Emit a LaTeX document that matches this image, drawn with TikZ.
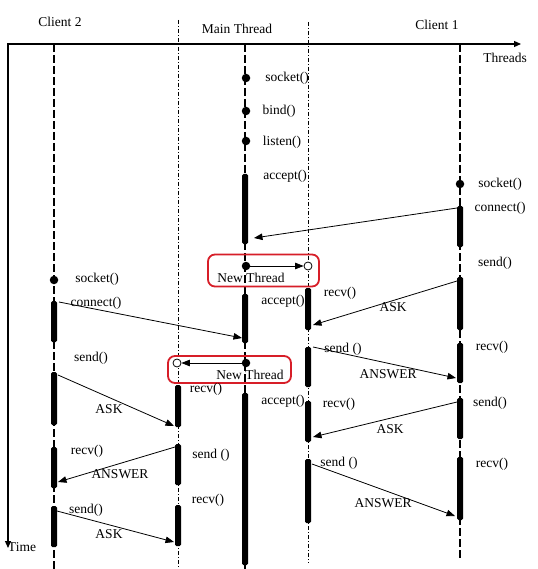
\documentclass[tikz,border=0pt]{standalone}
\usepackage{fontspec}
\setmainfont{Liberation Serif}
\usetikzlibrary{arrows.meta}
\definecolor{boxred}{RGB}{215,30,40}
\begin{document}
\begin{tikzpicture}[x=1pt,y=-1pt,
  every node/.style={font=\fontsize{13.5}{15}\selectfont},
  lbl/.style={inner sep=0pt, text height=1.6ex, text depth=0.45ex, yshift=-2pt},
  lifeline/.style={dash pattern=on 8pt off 3pt, line width=1.2pt},
  thrline/.style={dash pattern=on 4pt off 2pt on 1pt off 2pt, line width=0.8pt},
  bar/.style={rectangle, fill=black, inner sep=0pt, minimum width=6pt, rounded corners=1.5pt},
  dot/.style={circle, fill=black, inner sep=0pt, minimum size=8.5pt},
  odot/.style={circle, draw=black, fill=white, inner sep=0pt, minimum size=8pt, line width=0.8pt},
  msg/.style={line width=0.8pt, -{Triangle[length=8.5pt,width=6.5pt]}},
  axisline/.style={line width=1.2pt},
  redbox/.style={draw=boxred, line width=1.8pt, rounded corners=7pt, inner sep=0pt}
]
\useasboundingbox (0,0) rectangle (537,569);
\fill[white] (0,0) rectangle (537,569);

% axes
\coordinate (orig) at (8,44);
\coordinate (xend) at (521,44);
\coordinate (yend) at (8,548);
\draw[axisline, {Triangle[length=7pt,width=6pt]}-{Triangle[length=7pt,width=6pt]}] (xend) -- (orig) -- (yend);

% lifelines
\coordinate (c2top) at (54,44);   \coordinate (c2bot) at (54,569);
\coordinate (t2top) at (178,20);  \coordinate (t2bot) at (178,569);
\coordinate (mtop) at (245,44);   \coordinate (mbot) at (245,569);
\coordinate (t1top) at (308,22);  \coordinate (t1bot) at (308,563);
\coordinate (c1top) at (460,44);  \coordinate (c1bot) at (460,558);
\draw[lifeline] (c2top) -- (c2bot);
\draw[lifeline] (mtop) -- (mbot);
\draw[lifeline] (c1top) -- (c1bot);
\draw[thrline] (t2top) -- (t2bot);
\draw[thrline] (t1top) -- (t1bot);

% headers
\node[lbl] (hc2) at (60,22) {Client 2};
\node[lbl] (hm) at (237,29) {Main Thread};
\node[lbl] (hc1) at (437,25) {Client 1};
\node[lbl] (hthr) at (505,58) {Threads};
\node[lbl] (htime) at (22,547) {Time};

% red boxes
\node[redbox, minimum width=111pt, minimum height=32pt] (nb1) at (263.5,270.5) {};
\node[redbox, minimum width=123pt, minimum height=27pt] (nb2) at (229.5,369.5) {};

% main thread
\node[dot] (ms) at (246,78) {};
\node[dot] (mb) at (246,111) {};
\node[dot] (ml) at (246,141) {};
\node[lbl] (lms) at (287,77) {socket()};
\node[lbl] (lmb) at (279,110) {bind()};
\node[lbl] (lml) at (282,141) {listen()};
\node[lbl] (lma) at (285,175) {accept()};
\node[bar, minimum height=70pt] (mb1) at (245,209) {};
\node[bar, minimum height=49pt] (mb2) at (245,318.5) {};
\node[bar, minimum height=172pt] (mb3) at (245,479) {};
\node[lbl] (lma2) at (283,300) {accept()};
\node[lbl] (lma3) at (283,400) {accept()};

% new threads
\node[dot] (nt1) at (246,266) {};
\node[odot] (nc1) at (308,266) {};
\draw[msg] (nt1) -- (nc1);
\node[lbl] (lnt1) at (251,278) {New Thread};
\node[dot] (nt2) at (246,363) {};
\node[odot] (nc2) at (177,363) {};
\draw[msg] (nt2) -- (nc2);
\node[lbl] (lnt2) at (250,375) {New Thread};

% client 1
\node[dot] (c1s) at (460,184) {};
\node[lbl] (lc1s) at (500,183) {socket()};
\node[lbl] (lc1c) at (500,207) {connect()};
\node[lbl] (lc1send) at (495,262) {send()};
\node[lbl] (lc1recv) at (492,346) {recv()};
\node[lbl] (lc1send2) at (490,402) {send()};
\node[lbl] (lc1recv2) at (492,463) {recv()};
\node[bar, minimum height=41pt] (c1b1) at (460,226.5) {};
\node[bar, minimum height=53pt] (c1b2) at (460,303.5) {};
\node[bar, minimum height=40pt] (c1b3) at (460,363) {};
\node[bar, minimum height=41pt] (c1b4) at (460,418.5) {};
\node[bar, minimum height=63pt] (c1b5) at (460,488.5) {};

% thread 1 (x=308)
\node[bar, minimum height=42pt] (t1b1) at (308,309) {};
\node[bar, minimum height=40pt] (t1b2) at (308,367) {};
\node[bar, minimum height=41pt] (t1b3) at (308,421.5) {};
\node[bar, minimum height=64pt] (t1b4) at (308,491) {};
\node[lbl] (lt1r1) at (340,292) {recv()};
\node[lbl] (lt1s1) at (343,348) {send ()};
\node[lbl] (lt1r2) at (339,403) {recv()};
\node[lbl] (lt1s2) at (339,462) {send ()};
\node[lbl] (lask1) at (393,307) {ASK};
\node[lbl] (lans1) at (388,374) {ANSWER};
\node[lbl] (lask2) at (390,429) {ASK};
\node[lbl] (lans2) at (383,503) {ANSWER};

% client 2
\node[dot] (c2s) at (54,280) {};
\node[lbl] (lc2s) at (97,278) {socket()};
\node[lbl] (lc2c) at (96,302) {connect()};
\node[lbl] (lc2send) at (91,357) {send()};
\node[lbl] (lc2recv) at (87,450) {recv()};
\node[lbl] (lc2send2) at (86,509) {send()};
\node[lbl] (lask3) at (109,409) {ASK};
\node[lbl] (lans3) at (120,474) {ANSWER};
\node[lbl] (lask4) at (109,534) {ASK};
\node[bar, minimum height=41pt] (c2b1) at (54,321.5) {};
\node[bar, minimum height=53pt] (c2b2) at (54,398.5) {};
\node[bar, minimum height=41pt] (c2b3) at (54,467.5) {};
\node[bar, minimum height=41pt] (c2b4) at (54,526.5) {};

% thread 2 (x=178)
\node[bar, minimum height=42pt] (t2b1) at (178,406) {};
\node[bar, minimum height=41pt] (t2b2) at (178,464.5) {};
\node[bar, minimum height=41pt] (t2b3) at (178,525.5) {};
\node[lbl] (lt2r1) at (206,388) {recv()};
\node[lbl] (lt2s1) at (211,454) {send ()};
\node[lbl] (lt2r2) at (208,499) {recv()};

% messages
\coordinate (a1s) at (457,208);  \coordinate (a1e) at (254,238);
\coordinate (a2s) at (457,281);  \coordinate (a2e) at (313,325);
\coordinate (a3s) at (313,347);  \coordinate (a3e) at (456,378);
\coordinate (a4s) at (457,402);  \coordinate (a4e) at (313,437);
\coordinate (a5s) at (312,464);  \coordinate (a5e) at (455,516);
\coordinate (a6s) at (59,302);   \coordinate (a6e) at (242,338);
\coordinate (a7s) at (58,375);   \coordinate (a7e) at (174,426);
\coordinate (a8s) at (175,447);  \coordinate (a8e) at (58,482);
\coordinate (a9s) at (57,511);   \coordinate (a9e) at (174,542);
\draw[msg] (a1s) -- (a1e);
\draw[msg] (a2s) -- (a2e);
\draw[msg] (a3s) -- (a3e);
\draw[msg] (a4s) -- (a4e);
\draw[msg] (a5s) -- (a5e);
\draw[msg] (a6s) -- (a6e);
\draw[msg] (a7s) -- (a7e);
\draw[msg] (a8s) -- (a8e);
\draw[msg] (a9s) -- (a9e);
\end{tikzpicture}
\end{document}
